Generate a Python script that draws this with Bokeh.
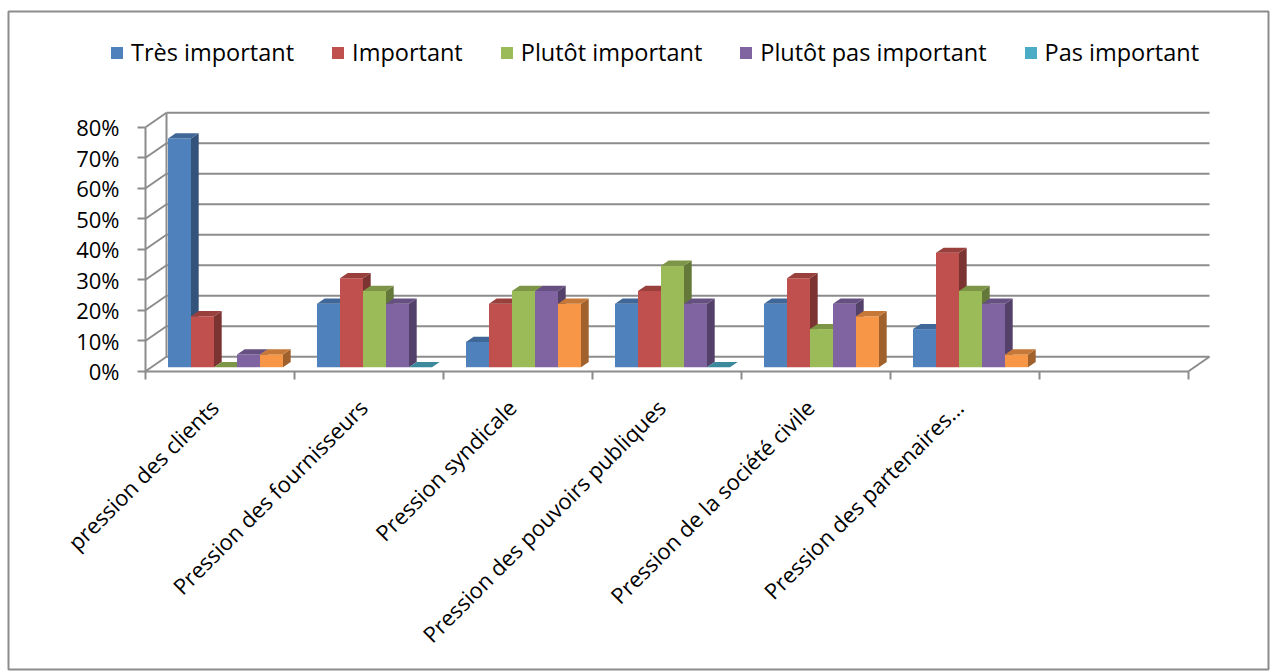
import math
from bokeh.plotting import figure
from bokeh.models import (ColumnDataSource, LinearAxis, FixedTicker, PrintfTickFormatter,
                          Legend, LegendItem, Range1d)
from bokeh.embed import file_html
from bokeh.resources import INLINE

# ---------------- data ----------------
categories = ["pression des clients", "Pression des fournisseurs", "Pression syndicale",
              "Pression des pouvoirs publiques", "Pression de la société civile",
              "Pression des partenaires...", ""]
series_names = ["Très important", "Important", "Plutôt important",
                "Plutôt pas important", "Pas important"]
tres_important = [75.0, 20.8, 8.3, 20.8, 20.8, 12.5]
important = [16.7, 29.2, 20.8, 25.0, 29.2, 37.5]
plutot_important = [0.0, 25.0, 25.0, 33.3, 12.5, 25.0]
plutot_pas_important = [4.2, 20.8, 25.0, 20.8, 20.8, 20.8]
pas_important = [4.2, 0.0, 20.8, 0.0, 16.7, 4.2]
y_ticks = [0, 10, 20, 30, 40, 50, 60, 70, 80]

series_values = [tres_important, important, plutot_important,
                 plutot_pas_important, pas_important]

# ---------------- styles ----------------
front_colors = ["#4F81BD", "#C0504D", "#9BBB59", "#8064A2", "#4BACC6"]
extra_color = "#F79646"  # orange points of the last series


def shade(hexc, f):
    h = hexc.lstrip("#")
    r, g, b = (int(h[i:i + 2], 16) for i in (0, 2, 4))
    return "#%02X%02X%02X" % (int(r * f), int(g * f), int(b * f))


GRID = "#8C8C8C"
FONT = "Open Sans"

W, H = 1276, 672
X0_PX, SLOT_PX = 145.0, 149.0
Y0_PX, PX_PER_PCT = 370.7, 3.05

# depth offsets (data units)
DX_WALL = 21.0 / SLOT_PX
DY_WALL = 14.5 / PX_PER_PCT
BAR_W = 23.0 / SLOT_PX
BAR_OFF = 22.5 / SLOT_PX
BAR_BASE = 4.0 / PX_PER_PCT
SIDE_DX = 7.7 / SLOT_PX
SIDE_DY = 5.2 / PX_PER_PCT
N_SLOTS = len(categories)

p = figure(width=W, height=H,
           x_range=Range1d(-X0_PX / SLOT_PX, (W - X0_PX) / SLOT_PX),
           y_range=Range1d(-(H - Y0_PX) / PX_PER_PCT, Y0_PX / PX_PER_PCT),
           x_axis_type=None, y_axis_type=None,
           toolbar_location=None, output_backend="svg",
           min_border=0, min_border_left=0, min_border_right=0,
           min_border_top=0, min_border_bottom=0,
           outline_line_color=None, background_fill_color="white",
           border_fill_color="white")


def px_x(px):
    return (px - X0_PX) / SLOT_PX


def px_y(py):
    return (Y0_PX - py) / PX_PER_PCT


# outer chart border
p.quad(left=[px_x(8)], right=[px_x(1268)], top=[px_y(11)], bottom=[px_y(669)],
       fill_color=None, line_color=GRID, line_width=2)

# back wall gridlines, left wall diagonals, floor edges
wall_xs, wall_ys = [], []
for t in y_ticks:
    wall_xs.append([DX_WALL, N_SLOTS + DX_WALL])
    wall_ys.append([t + DY_WALL, t + DY_WALL])
    wall_xs.append([0, DX_WALL])
    wall_ys.append([t, t + DY_WALL])
wall_xs.append([DX_WALL, DX_WALL])
wall_ys.append([DY_WALL, y_ticks[-1] + DY_WALL])
wall_xs.append([N_SLOTS, N_SLOTS + DX_WALL])
wall_ys.append([0, DY_WALL])
p.multi_line(xs=wall_xs, ys=wall_ys, line_color=GRID, line_width=2)

# bars (front face, side face, top face)
front_renderers = []
for j, vals in enumerate(series_values):
    base_c = front_colors[j]
    x0s, x1s, tops, cols, side_c, top_c = [], [], [], [], [], []
    side_xs, side_ys, top_xs, top_ys = [], [], [], []
    for i, v in enumerate(vals):
        if j == len(series_values) - 1 and v > 0:
            c = extra_color
        else:
            c = base_c
        x0 = i + BAR_OFF + j * BAR_W
        x1 = x0 + BAR_W
        yt = BAR_BASE + v
        x0s.append(x0)
        x1s.append(x1)
        tops.append(yt)
        cols.append(c)
        side_c.append(shade(c, 0.65))
        top_c.append(shade(c, 0.8))
        side_xs.append([x1, x1 + SIDE_DX, x1 + SIDE_DX, x1])
        side_ys.append([BAR_BASE, BAR_BASE + SIDE_DY, yt + SIDE_DY, yt])
        top_xs.append([x0, x1, x1 + SIDE_DX, x0 + SIDE_DX])
        top_ys.append([yt, yt, yt + SIDE_DY, yt + SIDE_DY])
    src = ColumnDataSource(dict(left=x0s, right=x1s, top=tops,
                                bottom=[BAR_BASE] * len(vals), color=cols))
    r = p.quad(left="left", right="right", top="top", bottom="bottom", source=src,
               fill_color="color", line_color=None)
    front_renderers.append(r)
    p.patches(xs=side_xs, ys=side_ys, fill_color=side_c, line_color=None)
    p.patches(xs=top_xs, ys=top_ys, fill_color=top_c, line_color=None)

# y axis (front left edge)
yaxis = LinearAxis(fixed_location=0, bounds=(0, y_ticks[-1]),
                   ticker=FixedTicker(ticks=y_ticks, minor_ticks=[]),
                   formatter=PrintfTickFormatter(format="%d%%"),
                   axis_line_color=GRID, axis_line_width=2,
                   major_tick_out=8, major_tick_in=0,
                   major_tick_line_color=GRID, major_tick_line_width=2,
                   minor_tick_out=0, minor_tick_in=0,
                   major_label_standoff=18,
                   major_label_text_font=FONT, major_label_text_font_size="22px",
                   major_label_text_color="black")
p.add_layout(yaxis, "left")

# x axis (front floor edge)
LABEL_SHIFT = -6.0 / SLOT_PX
label_ticks = [i + 0.5 + LABEL_SHIFT for i in range(N_SLOTS) if categories[i]]
overrides = {i + 0.5 + LABEL_SHIFT: categories[i] for i in range(N_SLOTS) if categories[i]}
xaxis = LinearAxis(fixed_location=0, bounds=(0, N_SLOTS),
                   ticker=FixedTicker(ticks=label_ticks, minor_ticks=list(range(N_SLOTS + 1))),
                   major_label_overrides=overrides,
                   major_label_orientation=math.pi / 4,
                   axis_line_color=GRID, axis_line_width=2,
                   major_tick_out=0, major_tick_in=0,
                   minor_tick_out=8, minor_tick_in=0,
                   minor_tick_line_color=GRID, minor_tick_line_width=2,
                   major_label_standoff=24,
                   major_label_text_font=FONT, major_label_text_font_size="22px",
                   major_label_text_color="black")
p.add_layout(xaxis, "below")

# legend
items = []
for j, name in enumerate(series_names):
    idx = 0
    if j == len(series_names) - 1:
        idx = [k for k, v in enumerate(series_values[j]) if v == 0][0]
    items.append(LegendItem(label=name, renderers=[front_renderers[j]], index=idx))
legend = Legend(items=items, orientation="horizontal", location=(109, H - 68),
                glyph_width=15, glyph_height=15, label_standoff=7, spacing=36,
                padding=0, margin=0, border_line_color=None, background_fill_alpha=0,
                label_text_font=FONT, label_text_font_size="23.5px",
                label_text_color="black")
p.add_layout(legend)

open("out.html", "w").write(file_html(p, INLINE))
